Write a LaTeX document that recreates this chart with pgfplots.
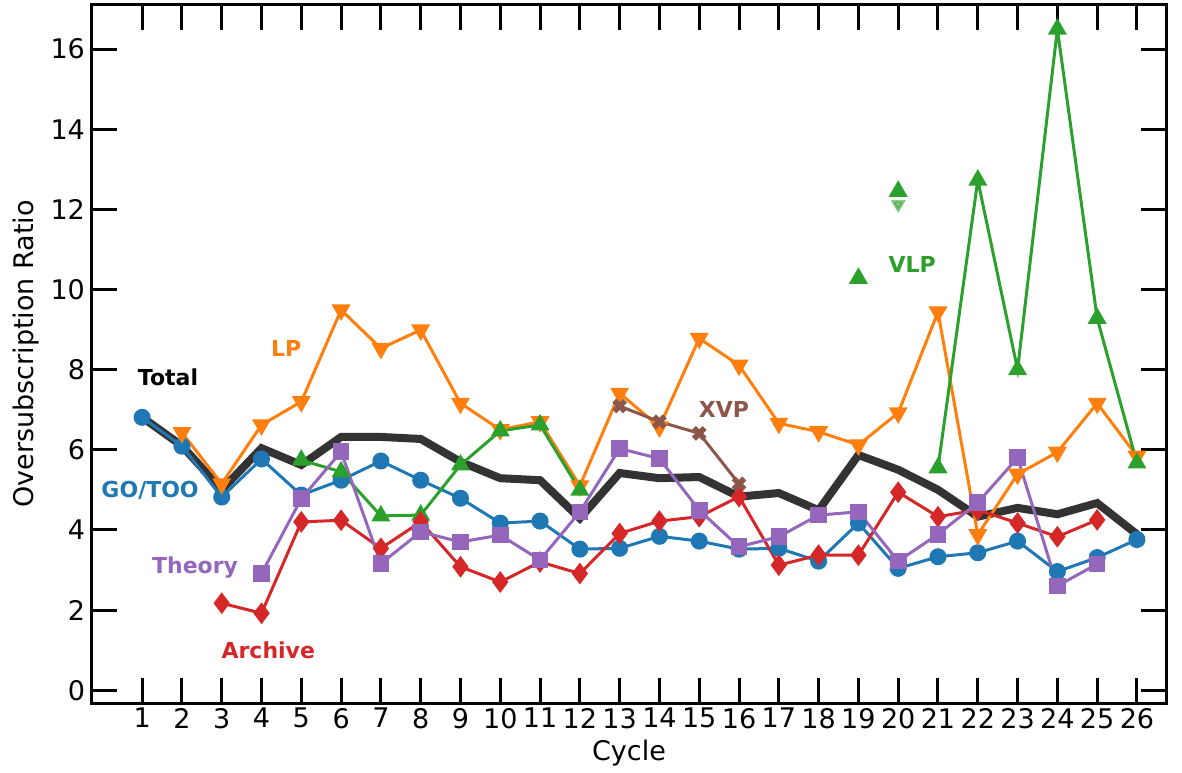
\documentclass[border=0pt]{standalone}
\usepackage{fontspec}
\setmainfont{DejaVu Sans}
\usepackage{pgfplots}
\pgfplotsset{compat=1.18}
\definecolor{tabblue}{HTML}{1F77B4}
\definecolor{taborange}{HTML}{FF7F0E}
\definecolor{tabgreen}{HTML}{2CA02C}
\definecolor{tabred}{HTML}{D62728}
\definecolor{tabpurple}{HTML}{9467BD}
\definecolor{tabbrown}{HTML}{8C564B}
\definecolor{totalgray}{HTML}{333333}

\begin{document}
\begin{tikzpicture}
\begin{axis}[
  scale only axis, width=537pt, height=349pt,
  xmin=-0.26, xmax=26.73, ymin=-0.32, ymax=17.1,
  xtick={1,...,26}, ytick={0,2,...,16},
  tick align=inside, tick pos=both,
  major tick length=12.5pt,
  every tick/.style={black, line width=1.5pt},
  axis line style={line width=1.5pt},
  tick label style={font=\fontsize{13.5}{15}\selectfont},
  xticklabel style={yshift=1pt},
  /pgf/number format/assume math mode=true,
  xlabel={Cycle}, ylabel={Oversubscription Ratio},
  every axis x label/.style={at={([yshift=-25pt]axis description cs:0.5,0)}, anchor=center, font=\fontsize{13.5}{15}\selectfont},
  every axis y label/.style={at={([xshift=-33pt]axis description cs:0,0.5)}, anchor=center, rotate=90, font=\fontsize{13.5}{15}\selectfont},
  unbounded coords=jump,
  every axis plot/.append style={line width=1.5pt},
]
% Total
\addplot[totalgray, line width=4pt, no marks] coordinates {
(1,6.81)(2,6.1)(3,5.0)(4,6.04)(5,5.62)(6,6.32)(7,6.32)(8,6.27)(9,5.70)(10,5.29)(11,5.24)(12,4.29)(13,5.42)
(14,5.29)(15,5.32)(16,4.83)(17,4.92)(18,4.49)(19,5.87)(20,5.50)(21,5.00)(22,4.33)(23,4.55)(24,4.39)(25,4.67)(26,3.89)};
% GO/TOO
\addplot[tabblue, mark=*, mark size=3.5pt] coordinates {
(1,6.81)(2,6.09)(3,4.82)(4,5.77)(5,4.87)(6,5.24)(7,5.72)(8,5.24)(9,4.79)(10,4.17)(11,4.22)(12,3.52)(13,3.54)
(14,3.84)(15,3.72)(16,3.52)(17,3.54)(18,3.22)(19,4.17)(20,3.04)(21,3.33)(22,3.43)(23,3.72)(24,2.96)(25,3.31)(26,3.76)};
% LP
\addplot[taborange, mark=triangle*, mark size=4pt, mark options={rotate=180}] coordinates {
(2,6.43)(3,5.15)(4,6.62)(5,7.2)(6,9.49)(7,8.53)(8,8.99)(9,7.16)(10,6.5)(11,6.7)(12,5.1)(13,7.41)(14,6.57)
(15,8.78)(16,8.11)(17,6.66)(18,6.45)(19,6.12)(20,6.92)(21,9.44)(22,3.88)(23,5.39)(24,5.94)(25,7.16)(26,5.84)};
% VLP
\addplot[tabgreen, mark=triangle*, mark size=4pt] coordinates {
(5,5.74)(6,5.45)(7,4.35)(8,4.37)(9,5.62)(10,6.47)(11,6.62)(12,4.99)(13,nan)
(19,10.28)(19.5,nan)(20,12.45)(20.5,nan)
(21,5.55)(22,12.73)(23,8.0)(24,16.5)(25,9.28)(26,5.67)};
\addplot[tabgreen, opacity=0.55, only marks, mark=triangle*, mark size=2.8pt, mark options={rotate=180}] coordinates {(20,12.12)};
% Archive
\addplot[tabred, mark=diamond*, mark size=4.2pt] coordinates {
(3,2.17)(4,1.92)(5,4.20)(6,4.24)(7,3.54)(8,4.2)(9,3.08)(10,2.70)(11,3.20)(12,2.91)(13,3.91)(14,4.22)
(15,4.33)(16,4.83)(17,3.12)(18,3.37)(19,3.37)(20,4.94)(21,4.33)(22,4.5)(23,4.17)(24,3.83)(25,4.25)};
% Theory
\addplot[tabpurple, mark=square*, mark size=3.4pt] coordinates {
(4,2.91)(5,4.78)(6,5.95)(7,3.16)(8,3.95)(9,3.70)(10,3.87)(11,3.25)(12,4.45)(13,6.03)(14,5.78)(15,4.49)
(16,3.58)(17,3.83)(18,4.37)(19,4.45)(20,3.22)(21,3.89)(22,4.68)(23,5.8)(24,2.6)(25,3.15)};
% XVP
\addplot[tabbrown, mark=x, mark size=3.8pt, mark options={line width=2.8pt}] coordinates {
(13,7.09)(14,6.70)(15,6.41)(16,5.15)};

\node[font=\fontsize{11}{13}\selectfont\bfseries, text=black] at (axis cs:1.65,7.81) {Total};
\node[font=\fontsize{11}{13}\selectfont\bfseries, text=taborange] at (axis cs:4.62,8.54) {LP};
\node[font=\fontsize{11}{13}\selectfont\bfseries, text=tabblue] at (axis cs:1.2,4.99) {GO/TOO};
\node[font=\fontsize{11}{13}\selectfont\bfseries, text=tabpurple] at (axis cs:2.33,3.05) {Theory};
\node[font=\fontsize{11}{13}\selectfont\bfseries, text=tabred] at (axis cs:4.17,1.0) {Archive};
\node[font=\fontsize{11}{13}\selectfont\bfseries, text=tabbrown] at (axis cs:15.62,7.01) {XVP};
\node[font=\fontsize{11}{13}\selectfont\bfseries, text=tabgreen] at (axis cs:20.35,10.63) {VLP};
\end{axis}
\path ([xshift=-46pt,yshift=-32pt]current axis.south west) rectangle ([xshift=8pt,yshift=2.5pt]current axis.north east);
\end{tikzpicture}
\end{document}
